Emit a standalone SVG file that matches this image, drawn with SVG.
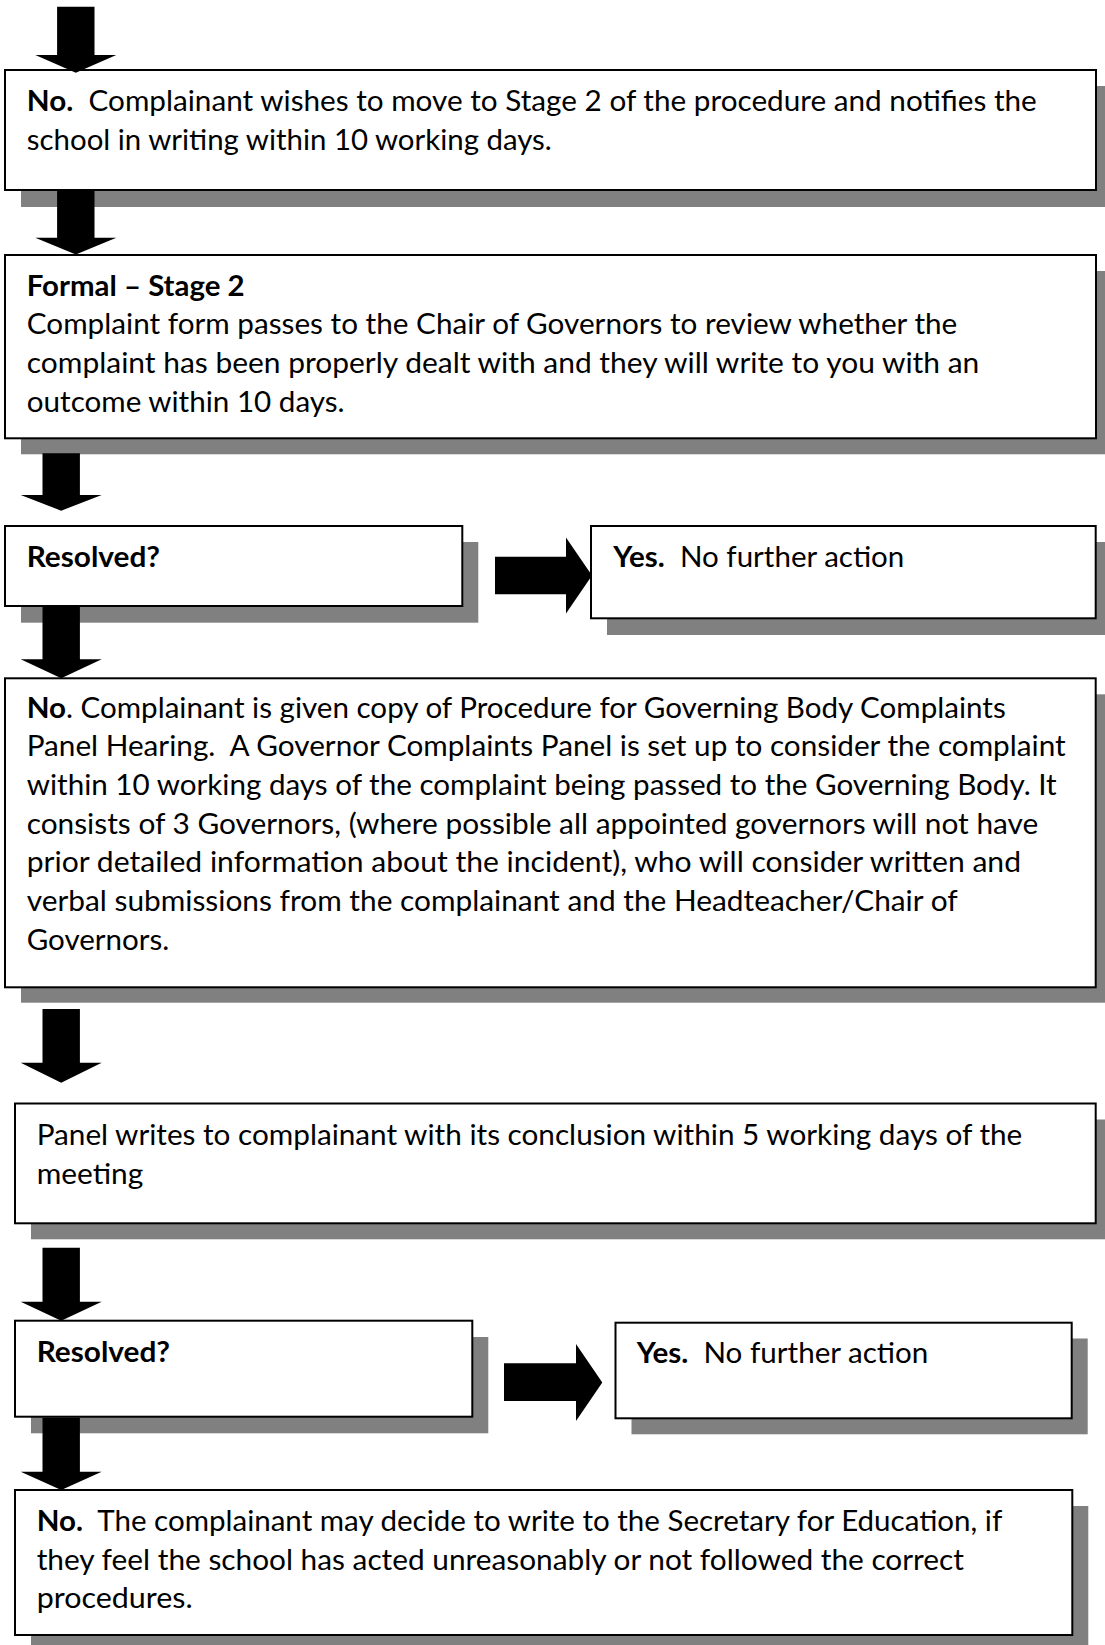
<svg xmlns="http://www.w3.org/2000/svg" width="1105" height="1645" viewBox="0 0 1105 1645">
<style>
.shadow{fill:#808080;stroke:none}
.box{fill:#fff;stroke:#000;stroke-width:2}
.t{font-family:Lato,"Open Sans","Liberation Sans",sans-serif;font-size:29px;fill:#000}
.b{font-weight:bold}
.arrow{fill:#000;stroke:none}
</style>
<rect width="1105" height="1645" fill="#fff"/>

<g id="node-stage2-request">
<rect class="shadow" x="21" y="86" width="1091" height="121"/>
<rect class="box" x="5" y="70" width="1091" height="120"/>
<text class="t" x="26.8" y="111" textLength="1010" lengthAdjust="spacingAndGlyphs"><tspan class="b">No.</tspan>&#160; Complainant wishes to move to Stage 2 of the procedure and notifies the</text>
<text class="t" x="26.8" y="149.7" textLength="525" lengthAdjust="spacingAndGlyphs">school in writing within 10 working days.</text>
</g>

<g id="node-formal-stage2">
<rect class="shadow" x="21" y="271" width="1091" height="183.3"/>
<rect class="box" x="5" y="255" width="1091" height="183.3"/>
<text class="t b" x="26.8" y="295.5" textLength="217.8" lengthAdjust="spacingAndGlyphs">Formal – Stage 2</text>
<text class="t" x="26.8" y="334.2" textLength="930.5" lengthAdjust="spacingAndGlyphs">Complaint form passes to the Chair of Governors to review whether the</text>
<text class="t" x="26.8" y="372.9" textLength="952.5" lengthAdjust="spacingAndGlyphs">complaint has been properly dealt with and they will write to you with an</text>
<text class="t" x="26.8" y="411.6" textLength="317.8" lengthAdjust="spacingAndGlyphs">outcome within 10 days.</text>
</g>

<g id="node-resolved-1">
<rect class="shadow" x="21" y="542" width="457.3" height="80.7"/>
<rect class="box" x="5" y="526" width="457.3" height="80"/>
<text class="t b" x="26.7" y="566.7" textLength="133.3" lengthAdjust="spacingAndGlyphs">Resolved?</text>
</g>

<g id="node-yes-1">
<rect class="shadow" x="607" y="542" width="505" height="93"/>
<rect class="box" x="591" y="526" width="504.7" height="92.3"/>
<text class="t" x="613.3" y="566.7" textLength="291" lengthAdjust="spacingAndGlyphs"><tspan class="b">Yes.</tspan>&#160; No further action</text>
</g>

<g id="node-panel-hearing">
<rect class="shadow" x="21" y="694.3" width="1091" height="308.4"/>
<rect class="box" x="5" y="678.3" width="1090.7" height="309"/>
<text class="t" x="26.7" y="717.5" textLength="979" lengthAdjust="spacingAndGlyphs"><tspan class="b">No</tspan>. Complainant is given copy of Procedure for Governing Body Complaints</text>
<text class="t" x="26.7" y="756.2" textLength="1039" lengthAdjust="spacingAndGlyphs">Panel Hearing.&#160; A Governor Complaints Panel is set up to consider the complaint</text>
<text class="t" x="26.7" y="794.9" textLength="1030" lengthAdjust="spacingAndGlyphs">within 10 working days of the complaint being passed to the Governing Body. It</text>
<text class="t" x="26.7" y="833.6" textLength="1011.6" lengthAdjust="spacingAndGlyphs">consists of 3 Governors, (where possible all appointed governors will not have</text>
<text class="t" x="26.7" y="872.3" textLength="994.3" lengthAdjust="spacingAndGlyphs">prior detailed information about the incident), who will consider written and</text>
<text class="t" x="26.7" y="911" textLength="931" lengthAdjust="spacingAndGlyphs">verbal submissions from the complainant and the Headteacher/Chair of</text>
<text class="t" x="26.7" y="949.7" textLength="142.6" lengthAdjust="spacingAndGlyphs">Governors.</text>
</g>

<g id="node-panel-writes">
<rect class="shadow" x="31" y="1119.5" width="1081" height="119.8"/>
<rect class="box" x="15" y="1103.5" width="1080.7" height="119.8"/>
<text class="t" x="36.7" y="1144.8" textLength="985.6" lengthAdjust="spacingAndGlyphs">Panel writes to complainant with its conclusion within 5 working days of the</text>
<text class="t" x="36.7" y="1183.5" textLength="106.6" lengthAdjust="spacingAndGlyphs">meeting</text>
</g>

<g id="node-resolved-2">
<rect class="shadow" x="31" y="1337" width="457.3" height="96.3"/>
<rect class="box" x="15" y="1320.7" width="457.3" height="96"/>
<text class="t b" x="36.7" y="1361.7" textLength="133.3" lengthAdjust="spacingAndGlyphs">Resolved?</text>
</g>

<g id="node-yes-2">
<rect class="shadow" x="631.5" y="1338.5" width="456.2" height="95.8"/>
<rect class="box" x="615.5" y="1322.7" width="456.2" height="95.6"/>
<text class="t" x="636.7" y="1363.3" textLength="291.6" lengthAdjust="spacingAndGlyphs"><tspan class="b">Yes.</tspan>&#160; No further action</text>
</g>

<g id="node-secretary">
<rect class="shadow" x="31" y="1506" width="1057.3" height="145"/>
<rect class="box" x="15" y="1490" width="1057.3" height="145"/>
<text class="t" x="36.7" y="1531" textLength="965.6" lengthAdjust="spacingAndGlyphs"><tspan class="b">No.</tspan>&#160; The complainant may decide to write to the Secretary for Education, if</text>
<text class="t" x="36.7" y="1569.7" textLength="927.3" lengthAdjust="spacingAndGlyphs">they feel the school has acted unreasonably or not followed the correct</text>
<text class="t" x="36.7" y="1608.4" textLength="156" lengthAdjust="spacingAndGlyphs">procedures.</text>
</g>

<g id="connectors">
<polygon class="arrow" points="57.1,6.7 94.5,6.7 94.5,55 116.3,55 75.8,72.7 35.3,55 57.1,55"/>
<polygon class="arrow" points="57.1,191 94.5,191 94.5,237.7 116.3,237.7 75.8,254.5 35.3,237.7 57.1,237.7"/>
<polygon class="arrow" points="42.5,453.3 79.9,453.3 79.9,495 101.7,495 61.2,510.7 20.7,495 42.5,495"/>
<polygon class="arrow" points="42.5,607 79.9,607 79.9,659.3 101.7,659.3 61.2,678.3 20.7,659.3 42.5,659.3"/>
<polygon class="arrow" points="42.5,1009 79.9,1009 79.9,1062.7 101.7,1062.7 61.2,1082.7 20.7,1062.7 42.5,1062.7"/>
<polygon class="arrow" points="42.5,1247.7 79.9,1247.7 79.9,1301.7 101.7,1301.7 61.2,1320.7 20.7,1301.7 42.5,1301.7"/>
<polygon class="arrow" points="42.5,1417.7 79.9,1417.7 79.9,1471.7 101.7,1471.7 61.2,1490 20.7,1471.7 42.5,1471.7"/>
<polygon class="arrow" points="495,556.7 566,556.7 566,537.5 592,575.5 566,613.5 566,594.3 495,594.3"/>
<polygon class="arrow" points="504,1363.3 576,1363.3 576,1344 602.3,1382.5 576,1421 576,1401 504,1401"/>
</g>
</svg>
